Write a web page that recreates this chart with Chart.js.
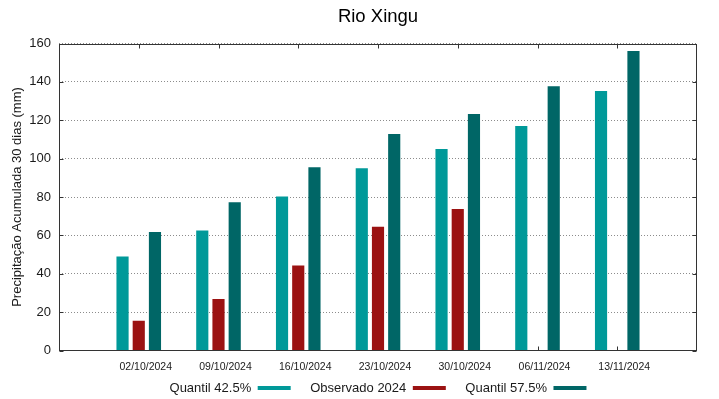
<!DOCTYPE html>
<html>
<head>
<meta charset="utf-8">
<script src="https://cdn.jsdelivr.net/npm/chart.js@4"></script>
<style>
  body { margin: 0; background: #fff; }
  #wrap { width: 719px; height: 399px; }
</style>
</head>
<body>
<div id="wrap"><canvas id="chart"></canvas></div>
<script>
const dates = ['02/10/2024', '09/10/2024', '16/10/2024', '23/10/2024', '30/10/2024', '06/11/2024', '13/11/2024'];
const quantil425 = [49, 62.5, 80.3, 95, 105, 117, 135.2];
const observado = [15.5, 26.8, 44.3, 64.5, 73.8, null, null];
const quantil575 = [61.7, 77.2, 95.5, 112.8, 123.2, 137.7, 156.1];
const yTicks = [0, 20, 40, 60, 80, 100, 120, 140, 160];

Chart.defaults.font.family = "'Liberation Sans', Arial, sans-serif";
Chart.defaults.color = '#1a1a1a';

// empty slot at each end so the weeks sit at 1..7 like the original plot
const pad = arr => [null, ...arr, null];

// plot frame plus the small inward ticks
const frame = {
  id: 'frame',
  beforeDatasetsDraw(chart) {
    const { ctx, chartArea: a, scales: { x, y } } = chart;
    const l = Math.round(a.left) + 0.5, r = Math.round(a.right) - 0.5;
    const t = Math.round(a.top) + 0.5, b = Math.round(a.bottom) - 0.5;
    ctx.save();
    ctx.strokeStyle = '#333';
    ctx.lineWidth = 1;
    ctx.beginPath();
    dates.forEach((d, i) => {
      const px = Math.round(x.getPixelForValue(i + 1)) + 0.5;
      ctx.moveTo(px, t); ctx.lineTo(px, t + 4);
      ctx.moveTo(px, b); ctx.lineTo(px, b - 4);
    });
    yTicks.forEach(v => {
      const py = Math.round(y.getPixelForValue(v)) + 0.5;
      ctx.moveTo(l, py); ctx.lineTo(l + 4, py);
      ctx.moveTo(r, py); ctx.lineTo(r - 4, py);
    });
    ctx.stroke();
    ctx.restore();
  },
  afterDatasetsDraw(chart) {
    const { ctx, chartArea: a } = chart;
    const l = Math.round(a.left) + 0.5, r = Math.round(a.right) - 0.5;
    const t = Math.round(a.top) + 0.5, b = Math.round(a.bottom) - 0.5;
    ctx.save();
    ctx.strokeStyle = '#333';
    ctx.lineWidth = 1;
    ctx.strokeRect(l, t, r - l, b - t);
    ctx.restore();
  }
};

new Chart(document.getElementById('chart'), {
  type: 'bar',
  data: {
    labels: pad(dates).map(d => d || ''),
    datasets: [
      { label: 'Quantil 42.5%', data: pad(quantil425), backgroundColor: '#009999', borderWidth: 0 },
      { label: 'Observado 2024', data: pad(observado), backgroundColor: '#9b1212', borderWidth: 0 },
      { label: 'Quantil 57.5%', data: pad(quantil575), backgroundColor: '#006666', borderWidth: 0 }
    ]
  },
  options: {
    responsive: true,
    maintainAspectRatio: false,
    animation: false,
    categoryPercentage: 0.61,
    barPercentage: 0.75,
    layout: { padding: { left: 0, right: 22, top: 0, bottom: -5.5 } },
    scales: {
      x: {
        offset: false,
        grid: { display: false, drawTicks: false },
        border: { display: false },
        ticks: {
          autoSkip: false,
          maxRotation: 0,
          // mirrored so the labels are not clipped to the thin axis box;
          // the negative padding pushes them back below the frame
          mirror: true,
          padding: -22.5,
          labelOffset: 7,
          font: { size: 10.5 },
          color: '#1a1a1a'
        },
        afterFit: s => { s.height = 11.5; }
      },
      y: {
        min: 0,
        max: 160,
        afterBuildTicks: s => { s.ticks = yTicks.map(v => ({ value: v })); },
        grid: { color: '#8c8c8c', drawTicks: false },
        border: { display: false, dash: [1, 2] },
        ticks: { padding: 8, font: { size: 13 }, color: '#1a1a1a' },
        title: {
          display: true,
          text: 'Precipitação Acumulada 30 dias (mm)',
          font: { size: 13 },
          color: '#1a1a1a',
          padding: { top: 9.7, bottom: 0 }
        },
        afterFit: s => { s.width = 59; }
      }
    },
    plugins: {
      title: {
        display: true,
        text: 'Rio Xingu',
        fullSize: false,
        color: '#000',
        font: { size: 18.5, weight: 'normal' },
        padding: { top: 5.4, bottom: 15.9 }
      },
      legend: {
        position: 'bottom',
        fullSize: false,
        rtl: true,
        reverse: true,
        textDirection: 'ltr',
        labels: {
          boxWidth: 33,
          boxHeight: 4,
          padding: 19.5,
          font: { size: 13 },
          color: '#1a1a1a'
        }
      },
      tooltip: { enabled: false }
    }
  },
  plugins: [frame]
});
</script>
</body>
</html>
